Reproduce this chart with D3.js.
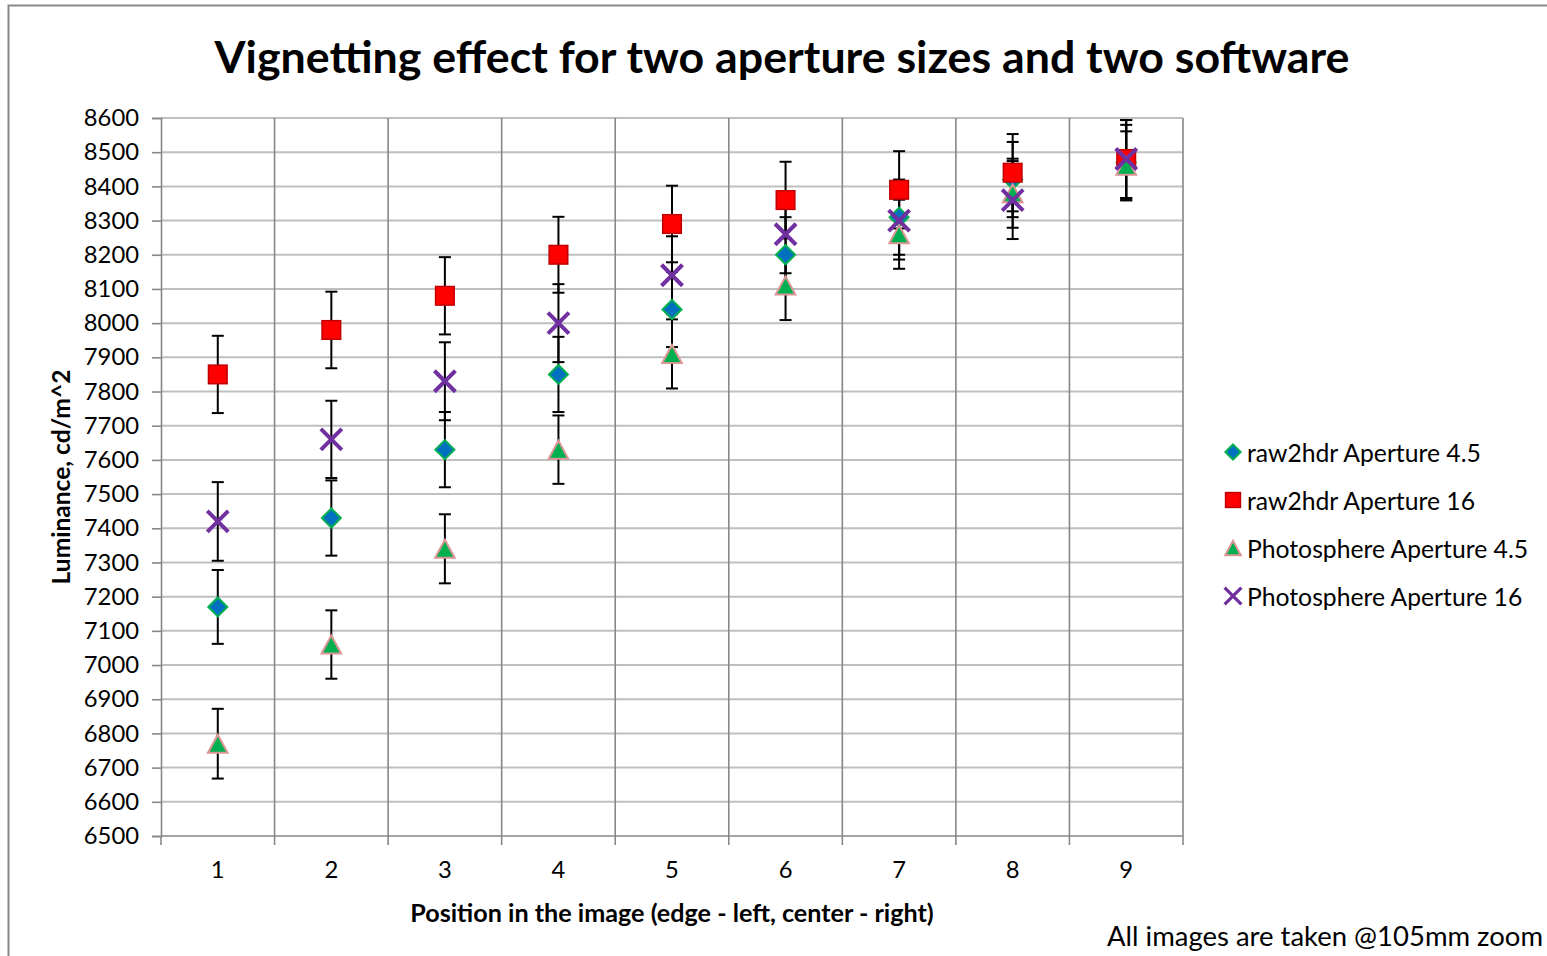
<!DOCTYPE html>
<html>
<head>
<meta charset="utf-8">
<script src="https://cdn.jsdelivr.net/npm/d3@7"></script>
<style>
  html, body { margin: 0; padding: 0; background: #fff; }
  svg { display: block; }
  text { font-family: Lato, "Open Sans", sans-serif; fill: #000; }
</style>
</head>
<body>
<svg id="chart" width="1547" height="956"></svg>
<script>
// ---- data ----
const positions = [1, 2, 3, 4, 5, 6, 7, 8, 9];
const yTicks = [6500, 6600, 6700, 6800, 6900, 7000, 7100, 7200, 7300, 7400, 7500, 7600, 7700, 7800, 7900, 8000, 8100, 8200, 8300, 8400, 8500, 8600];
const seriesNames = ["raw2hdr Aperture 4.5", "raw2hdr Aperture 16", "Photosphere Aperture 4.5", "Photosphere Aperture 16"];
const raw2hdr45 = [7170, 7430, 7630, 7850, 8040, 8200, 8310, 8420, 8470];
const raw2hdr16 = [7850, 7980, 8080, 8200, 8290, 8360, 8390, 8440, 8480];
const photo45   = [6770, 7060, 7340, 7630, 7910, 8110, 8260, 8380, 8460];
const photo16   = [7420, 7660, 7830, 8000, 8140, 8260, 8300, 8360, 8480];
const raw2hdr45Err = [108, 110, 110, 110, 110, 110, 110, 110, 110];
const raw2hdr16Err = [113, 112, 113, 111, 112, 112, 113, 113, 114];
const photo45Err   = [102, 100, 101, 100, 101, 101, 101, 101, 101];
const photo16Err   = [115, 113, 114, 114, 114, 114, 114, 114, 114];
const titleText = "Vignetting effect for two aperture sizes and two software";
const xTitle = "Position in the image (edge - left, center - right)";
const yTitle = "Luminance, cd/m^2";
const footnote = "All images are taken @105mm zoom";

const series = [
  { name: seriesNames[0], values: raw2hdr45, err: raw2hdr45Err, shape: "diamond" },
  { name: seriesNames[1], values: raw2hdr16, err: raw2hdr16Err, shape: "square" },
  { name: seriesNames[2], values: photo45,   err: photo45Err,   shape: "triangle" },
  { name: seriesNames[3], values: photo16,   err: photo16Err,   shape: "cross" }
];

// ---- layout ----
const svg = d3.select("#chart");
const L = 161, R = 1183, T = 118, B = 836;
const x = d3.scaleBand().domain(positions).range([L, R]).padding(0);
const y = d3.scaleLinear().domain([6500, 8600]).range([B, T]);
const gridLight = "#BFBFBF", gridDark = "#878787";

// chart border
svg.append("rect").attr("x", 8.5).attr("y", 5.5).attr("width", 1600).attr("height", 1000)
  .attr("fill", "none").attr("stroke", "#888").attr("stroke-width", 2);

function fitText(sel, target) {
  const node = sel.node();
  const fs = parseFloat(sel.attr("font-size"));
  const w = node.getComputedTextLength();
  if (w > 0) sel.attr("font-size", fs * target / w);
  return parseFloat(sel.attr("font-size"));
}

// title
const title = svg.append("text").attr("x", 782).attr("y", 56).attr("text-anchor", "middle")
  .attr("dominant-baseline", "central").attr("font-weight", "bold").attr("font-size", 42).text(titleText);
fitText(title, 1135);

// horizontal gridlines
svg.append("g").selectAll("line").data(yTicks.filter(d => d > 6500)).join("line")
  .attr("x1", L).attr("x2", R).attr("y1", d => y(d)).attr("y2", d => y(d))
  .attr("stroke", gridLight).attr("stroke-width", 2);

// vertical gridlines at category boundaries
svg.append("g").selectAll("line").data(positions.slice(1).concat(["end"])).join("line")
  .attr("x1", d => d === "end" ? R : x(d)).attr("x2", d => d === "end" ? R : x(d))
  .attr("y1", T).attr("y2", B)
  .attr("stroke", gridDark).attr("stroke-width", 1.6);

// y axis
const yAxis = d3.axisLeft(y).tickValues(yTicks).tickSize(9).tickPadding(13).tickFormat(d3.format("d"));
const gy = svg.append("g").attr("transform", `translate(${L},0)`).call(yAxis);
gy.select(".domain").attr("stroke", gridDark).attr("stroke-width", 1.6);
gy.selectAll(".tick line").attr("stroke", gridDark).attr("stroke-width", 1.6);
gy.selectAll(".tick text").attr("font-size", 23.8).attr("font-family", "Lato, sans-serif").attr("fill", "#000");

// x axis (labels centered, ticks at boundaries)
const xAxis = d3.axisBottom(x).tickSize(0).tickPadding(25);
const gx = svg.append("g").attr("transform", `translate(0,${B})`).call(xAxis);
gx.select(".domain").remove();
gx.selectAll(".tick text").attr("font-size", 23.8).attr("font-family", "Lato, sans-serif").attr("fill", "#000");
svg.append("line").attr("x1", L).attr("x2", R).attr("y1", B).attr("y2", B)
  .attr("stroke", gridDark).attr("stroke-width", 1.6);
svg.append("g").selectAll("line").data(positions.concat(["end"])).join("line")
  .attr("x1", d => d === "end" ? R : x(d)).attr("x2", d => d === "end" ? R : x(d))
  .attr("y1", B).attr("y2", B + 9).attr("stroke", gridDark).attr("stroke-width", 1.6);

// axis titles
const xt = svg.append("text").attr("x", 672).attr("y", 912).attr("text-anchor", "middle")
  .attr("dominant-baseline", "central").attr("font-weight", "bold").attr("font-size", 22).text(xTitle);
fitText(xt, 524);
const yt = svg.append("text").attr("transform", "translate(60,477) rotate(-90)").attr("text-anchor", "middle")
  .attr("dominant-baseline", "central").attr("font-weight", "bold").attr("font-size", 22).text(yTitle);
fitText(yt, 215);

// marker drawing
function drawMarker(g, shape, s) {
  if (shape === "diamond") {
    const h = 9.5 * s;
    g.append("path").attr("d", `M0,${-h}L${h},0L0,${h}L${-h},0Z`)
      .attr("fill", "#0070C0").attr("stroke", "#00B050").attr("stroke-width", 2);
  } else if (shape === "square") {
    const h = 9.3 * s;
    g.append("rect").attr("x", -h).attr("y", -h).attr("width", 2 * h).attr("height", 2 * h)
      .attr("fill", "#FF0000").attr("stroke", "#C00000").attr("stroke-width", 1.5);
  } else if (shape === "triangle") {
    const w = 9.8 * s, h = 9 * s;
    g.append("path").attr("d", `M0,${-h}L${w},${h}L${-w},${h}Z`)
      .attr("fill", "#00B050").attr("stroke", "#D99694").attr("stroke-width", 2);
  } else {
    const h = 10.5 * s;
    g.append("path").attr("d", `M${-h},${-h}L${h},${h}M${-h},${h}L${h},${-h}`)
      .attr("fill", "none").attr("stroke", "#7030A0").attr("stroke-width", 4 * s);
  }
}

// error bars (behind markers)
const errG = svg.append("g");
series.forEach(s => {
  s.values.forEach((v, i) => {
    const cx = x(positions[i]) + x.bandwidth() / 2;
    const hi = y(v + s.err[i]), lo = y(v - s.err[i]);
    errG.append("line").attr("x1", cx).attr("x2", cx).attr("y1", hi).attr("y2", lo)
      .attr("stroke", "#000").attr("stroke-width", 2);
    [hi, lo].forEach(yy => errG.append("line").attr("x1", cx - 6).attr("x2", cx + 6)
      .attr("y1", yy).attr("y2", yy).attr("stroke", "#000").attr("stroke-width", 2));
  });
});

// markers
series.forEach(s => {
  const g = svg.append("g");
  s.values.forEach((v, i) => {
    const cx = x(positions[i]) + x.bandwidth() / 2;
    drawMarker(g.append("g").attr("transform", `translate(${cx},${y(v)})`), s.shape, 1);
  });
});

// legend
const legY = d3.scalePoint().domain(seriesNames).range([452, 596]);
let legFont = 22;
series.forEach((s, k) => {
  const cy = legY(s.name);
  drawMarker(svg.append("g").attr("transform", `translate(1233,${cy})`), s.shape, 0.8);
  const t = svg.append("text").attr("x", 1247).attr("y", cy).attr("dominant-baseline", "central")
    .attr("font-size", legFont).text(s.name);
  if (k === 0) legFont = fitText(t, 234);
});

// footnote
const fn = svg.append("text").attr("x", 1543).attr("y", 935).attr("text-anchor", "end")
  .attr("dominant-baseline", "central").attr("font-size", 22).text(footnote);
fitText(fn, 436);
</script>
</body>
</html>
